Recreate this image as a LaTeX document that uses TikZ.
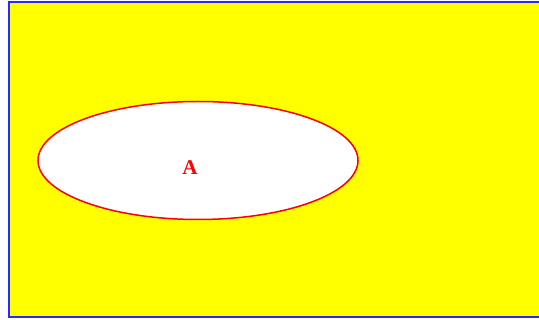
\documentclass[tikz,border=0pt]{standalone}
\usepackage{fontspec}
\setmainfont{Liberation Serif}
\definecolor{bgyellow}{RGB}{255,255,0}
\definecolor{frameblue}{RGB}{40,40,255}
\definecolor{setred}{RGB}{255,0,0}
\begin{document}
\begin{tikzpicture}[x=1pt,y=-1pt,
  frame/.style={draw=frameblue,line width=2pt,fill=bgyellow},
  setA/.style={draw=setred,line width=1.5pt,fill=white},
  lbl/.style={text=setred,font=\bfseries\fontsize{21}{23}\selectfont,inner sep=0pt}]
\useasboundingbox (0,0) rectangle (539,320);
\path[frame] (9,2) rectangle (548,317);
\path[setA] (198,160.5) ellipse [x radius=160, y radius=59];
\node[lbl] (a) at (190,168) {A};
\end{tikzpicture}
\end{document}
